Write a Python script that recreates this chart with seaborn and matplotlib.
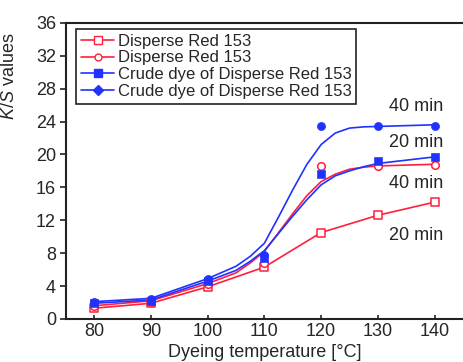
import numpy as np
import pandas as pd
import seaborn as sns
import matplotlib.pyplot as plt
from matplotlib.lines import Line2D

# measured K/S values at each dyeing temperature
temps = [80, 90, 100, 110, 120, 130, 140]
red_20 = [1.3, 1.9, 3.9, 6.3, 10.5, 12.6, 14.2]
red_40 = [1.6, 2.1, 4.3, 6.8, 18.6, 18.6, 18.7]
crude_20 = [1.9, 2.2, 4.6, 7.4, 17.6, 19.2, 19.7]
crude_40 = [2.1, 2.4, 4.9, 7.8, 23.4, 23.4, 23.5]

# fitted curves
fit_temps = [80, 90, 100, 105, 107.5, 110, 112.5, 115, 117.5, 120, 122.5, 125, 127.5, 130, 140]
red_40_fit = [1.6, 2.2, 4.3, 5.6, 6.8, 8.2, 10.5, 12.8, 15.0, 16.7, 17.6, 18.2, 18.45, 18.6, 18.8]
crude_20_fit = [1.9, 2.3, 4.6, 5.9, 7.0, 8.3, 10.4, 12.5, 14.5, 16.3, 17.4, 18.0, 18.5, 18.9, 19.7]
crude_40_fit = [2.1, 2.5, 4.9, 6.4, 7.6, 9.2, 12.4, 15.7, 18.8, 21.2, 22.6, 23.2, 23.35, 23.4, 23.6]

legend_labels = ["Disperse Red 153", "Disperse Red 153",
                 "Crude dye of Disperse Red 153", "Crude dye of Disperse Red 153"]
time_labels = ["40 min", "20 min", "40 min", "20 min"]
time_label_y = [25.8, 21.4, 16.5, 10.2]

red = "#ff1f3d"
blue = "#1f32ff"

sns.set_style("ticks")
plt.rcParams["font.family"] = ["Liberation Sans", "DejaVu Sans"]
plt.rcParams["mathtext.fontset"] = "custom"
plt.rcParams["mathtext.it"] = "Liberation Sans:italic"
plt.rcParams["mathtext.rm"] = "Liberation Sans"

fig = plt.figure(figsize=(4.63, 3.62), dpi=100)
ax = fig.add_axes([0.142, 0.119, 0.858, 0.818])

lw = 1.2
sns.lineplot(x=temps, y=red_20, color=red, lw=lw, ax=ax)
sns.lineplot(x=fit_temps, y=red_40_fit, color=red, lw=lw, ax=ax)
sns.lineplot(x=fit_temps, y=crude_20_fit, color=blue, lw=lw, ax=ax)
sns.lineplot(x=fit_temps, y=crude_40_fit, color=blue, lw=lw, ax=ax)

sns.scatterplot(x=temps, y=red_20, marker="s", s=30, facecolor="white",
                edgecolor=red, linewidth=1.1, ax=ax, zorder=3)
sns.scatterplot(x=temps, y=red_40, marker="o", s=30, facecolor="white",
                edgecolor=red, linewidth=1.1, ax=ax, zorder=3)
sns.scatterplot(x=temps, y=crude_20, marker="s", s=32, color=blue,
                edgecolor=blue, ax=ax, zorder=4)
sns.scatterplot(x=temps, y=crude_40, marker="o", s=34, color=blue,
                edgecolor=blue, ax=ax, zorder=4)

for lab, yy in zip(time_labels, time_label_y):
    ax.text(136.8, yy, lab, ha="center", va="center", fontsize=13)

handles = [
    Line2D([], [], color=red, lw=lw, marker="s", ms=6, mfc="white", mec=red),
    Line2D([], [], color=red, lw=lw, marker="o", ms=5, mfc="white", mec=red),
    Line2D([], [], color=blue, lw=lw, marker="s", ms=6, mfc=blue, mec=blue),
    Line2D([], [], color=blue, lw=lw, marker="D", ms=5, mfc=blue, mec=blue),
]
leg = ax.legend(handles, legend_labels, loc="upper left", bbox_to_anchor=(0.026, 0.98),
                borderaxespad=0, fontsize=12, labelspacing=0.1, handlelength=2.0,
                handletextpad=0.2, borderpad=0.3, fancybox=False, framealpha=1)
leg.get_frame().set_edgecolor("#222222")
leg.get_frame().set_linewidth(1.2)

ax.set_xlim(75, 145)
ax.set_ylim(0, 36)
ax.set_xticks(temps)
ax.set_yticks(range(0, 37, 4))
ax.tick_params(labelsize=13, width=1.2, color="#222222")
ax.tick_params(axis="x", direction="in", length=3, pad=3)
ax.tick_params(axis="y", direction="out", length=4, pad=3)
for side in ["left", "bottom", "top"]:
    ax.spines[side].set_linewidth(1.5)
    ax.spines[side].set_color("#222222")
ax.spines["right"].set_visible(False)

ax.set_xlabel("Dyeing temperature [°C]", fontsize=13, labelpad=3)
ax.set_ylabel("$K/S$ values", fontsize=13)
ax.yaxis.set_label_coords(-0.12, 0.82)

fig.savefig("out.png", dpi=100)
